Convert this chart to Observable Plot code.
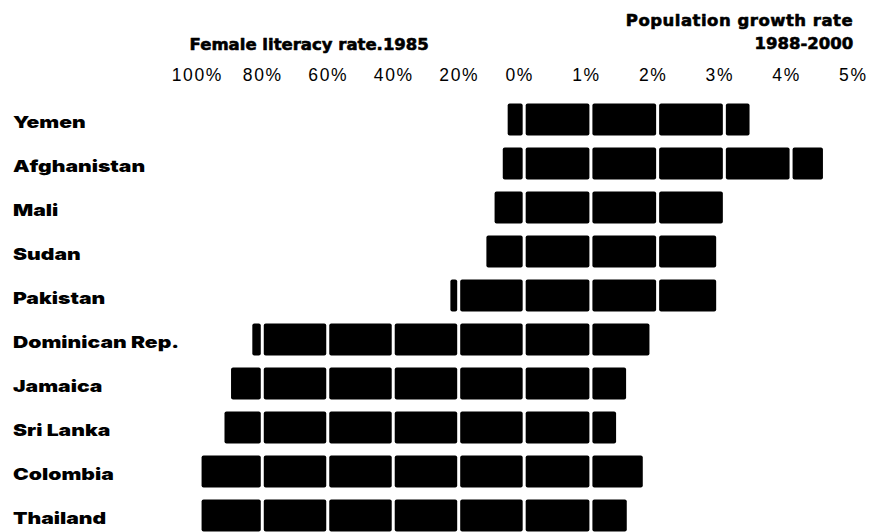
<!DOCTYPE html>
<html><head><meta charset="utf-8">
<script src="https://cdn.jsdelivr.net/npm/d3@7"></script>
<script src="https://cdn.jsdelivr.net/npm/@observablehq/plot@0.6"></script>
<style>
body{margin:0;background:#fff}
</style>
</head><body><div id="chart"></div>
<script>
const countries = ["Yemen","Afghanistan","Mali","Sudan","Pakistan","Dominican Rep.","Jamaica","Sri Lanka","Colombia","Thailand"];
const femaleLiteracy1985 = [5.5, 7, 9.5, 12, 23, 83.5, 90, 92, 99, 99];
const popGrowth1988_2000 = [3.4, 4.5, 3.0, 2.9, 2.9, 1.9, 1.55, 1.4, 1.8, 1.56];
const literacyTicks = [100, 80, 60, 40, 20];
const growthTicks = [0, 1, 2, 3, 4, 5];

// one block per 20 % of literacy (left, negative side) and per 1 % of growth (right)
const segments = [];
countries.forEach((c, i) => {
  const n = femaleLiteracy1985[i] / 20;
  for (let k = 0; k < n - 1e-9; k++) segments.push({country: c, x1: -Math.min(k + 1, n), x2: -k});
  const g = popGrowth1988_2000[i];
  for (let k = 0; k < g - 1e-9; k++) segments.push({country: c, x1: k, x2: Math.min(k + 1, g)});
});

const leftRatio = 65.5 / 66.75; // the literacy half is drawn slightly narrower
const tickFont = {fontFamily: "Liberation Sans, Arial, sans-serif", fontSize: 17.5, fill: "#000"};
const titleFont = {fontFamily: "DejaVu Sans, sans-serif", fontWeight: "bold", fill: "#000", stroke: "#000", strokeWidth: 0.6, fontSize: 16.5};

const chart = Plot.plot({
  width: 883, height: 532, margin: 0,
  style: {background: "#fff", overflow: "hidden"},
  x: {type: "linear", transform: v => v < 0 ? v * leftRatio : v, domain: [-5 * leftRatio, 5], range: [196.8, 857.8], axis: null},
  y: {type: "band", domain: countries, range: [91.5, 543.5], padding: 0.273, round: false, axis: null},
  marks: [
    Plot.rect(segments, {x1: "x1", x2: "x2", y: "country", fill: "#000", insetLeft: 1.5, insetRight: 1.5, rx: 2}),
    Plot.text(countries, {y: d => d, text: d => d, frameAnchor: "left", textAnchor: "start",
      fontFamily: "Inter, DejaVu Sans, sans-serif", fontWeight: 900, fontSize: 16.5, fill: "#000"}),
    Plot.text(literacyTicks, {x: d => -d / 20, text: d => d + "%", frameAnchor: "top", lineAnchor: "bottom", dy: 80, ...tickFont}),
    Plot.text(growthTicks, {x: d => d, text: d => d + "%", frameAnchor: "top", lineAnchor: "bottom", dy: 80, dx: -5, ...tickFont}),
    Plot.text(["Female literacy rate.1985"], {frameAnchor: "top-left", dx: 308.7, dy: 49.3, lineAnchor: "bottom", textAnchor: "middle", ...titleFont}),
    Plot.text(["Population growth rate"], {frameAnchor: "top-right", dx: -30.3, dy: 25.5, lineAnchor: "bottom", textAnchor: "end", ...titleFont}),
    Plot.text(["1988-2000"], {frameAnchor: "top-right", dx: -30.3, dy: 48.3, lineAnchor: "bottom", textAnchor: "end", ...titleFont})
  ]
});

// the printed row labels use a very wide black face: stretch them horizontally
d3.select(chart).selectAll("text")
  .filter(function() { return countries.includes(this.textContent); })
  .each(function() {
    const t = this.getAttribute("transform") || "";
    this.setAttribute("transform", `${t} translate(12.5,2.7) scale(1.28,1)`);
  });
// the tick labels are set with a little extra tracking
d3.select(chart).selectAll("text")
  .filter(function() { return /%$/.test(this.textContent); })
  .style("letter-spacing", "1.6px");
d3.select(chart).selectAll("text")
  .filter(function() { return this.textContent === "Population growth rate"; })
  .style("letter-spacing", "0.5px");

document.getElementById("chart").append(chart);
</script>
</body></html>
